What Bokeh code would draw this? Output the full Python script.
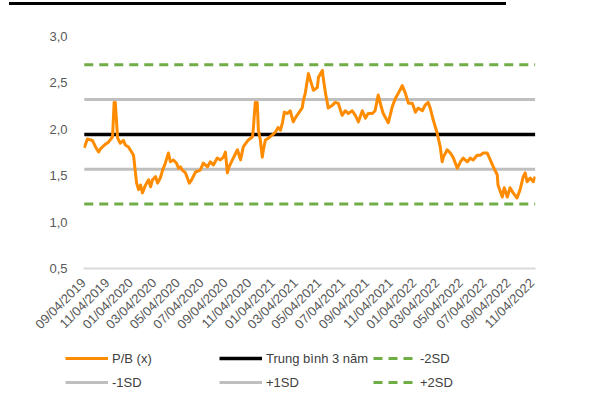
import pandas as pd
from math import pi
from bokeh.plotting import figure
from bokeh.models import Range1d, FixedTicker, Legend, LegendItem, Div
from bokeh.layouts import column
from bokeh.embed import file_html
from bokeh.resources import INLINE

# ---- data -------------------------------------------------------------
dates = [
    "2019-09-06", "2019-09-14", "2019-09-27", "2019-10-05", "2019-10-13", "2019-10-18",
    "2019-10-28", "2019-11-07", "2019-11-18", "2019-11-22", "2019-11-25", "2019-12-01",
    "2019-12-08", "2019-12-16", "2019-12-21", "2019-12-29", "2020-01-06", "2020-01-11",
    "2020-01-16", "2020-01-19", "2020-01-24", "2020-01-29", "2020-02-03", "2020-02-11",
    "2020-02-19", "2020-02-24", "2020-02-29", "2020-03-08", "2020-03-13", "2020-03-20",
    "2020-03-26", "2020-04-02", "2020-04-10", "2020-04-15", "2020-04-23", "2020-05-01",
    "2020-05-06", "2020-05-11", "2020-05-16", "2020-05-24", "2020-06-03", "2020-06-08",
    "2020-06-19", "2020-07-01", "2020-07-09", "2020-07-20", "2020-07-27", "2020-08-04",
    "2020-08-14", "2020-08-22", "2020-08-30", "2020-09-04", "2020-09-09", "2020-09-14",
    "2020-09-22", "2020-10-05", "2020-10-13", "2020-10-20", "2020-11-02", "2020-11-13",
    "2020-11-15", "2020-11-20", "2020-11-25", "2020-11-28", "2020-12-03", "2020-12-08",
    "2020-12-11", "2020-12-16", "2020-12-24", "2021-01-03", "2021-01-11", "2021-01-18",
    "2021-01-24", "2021-01-29", "2021-02-03", "2021-02-11", "2021-02-18", "2021-02-26",
    "2021-03-03", "2021-03-11", "2021-03-21", "2021-03-24", "2021-03-29", "2021-04-06",
    "2021-04-11", "2021-04-19", "2021-04-29", "2021-05-02", "2021-05-12", "2021-05-14",
    "2021-05-20", "2021-05-25", "2021-05-27", "2021-06-07", "2021-06-14", "2021-06-22",
    "2021-07-02", "2021-07-10", "2021-07-18", "2021-07-28", "2021-08-05", "2021-08-13",
    "2021-08-23", "2021-08-31", "2021-09-07", "2021-09-18", "2021-09-25", "2021-10-03",
    "2021-10-11", "2021-10-16", "2021-10-29", "2021-11-08", "2021-11-16", "2021-11-24",
    "2021-12-04", "2021-12-12", "2021-12-20", "2021-12-30", "2022-01-07", "2022-01-14",
    "2022-01-25", "2022-02-01", "2022-02-09", "2022-02-14", "2022-02-22", "2022-03-04",
    "2022-03-12", "2022-03-17", "2022-03-20", "2022-03-30", "2022-04-07", "2022-04-14",
    "2022-04-25", "2022-05-03", "2022-05-10", "2022-05-21", "2022-05-28", "2022-06-05",
    "2022-06-15", "2022-06-23", "2022-07-01", "2022-07-11", "2022-07-19", "2022-07-27",
    "2022-08-06", "2022-08-08", "2022-08-19", "2022-08-24", "2022-09-01", "2022-09-08",
    "2022-09-16", "2022-09-26", "2022-10-04", "2022-10-12", "2022-10-17", "2022-10-22",
    "2022-10-30", "2022-11-07", "2022-11-12",
]
pb = [
    1.80, 1.895, 1.88, 1.81, 1.755, 1.79,
    1.83, 1.86, 1.92, 2.29, 2.29, 1.905,
    1.85, 1.88, 1.83, 1.81, 1.755, 1.72,
    1.53, 1.42, 1.35, 1.40, 1.315, 1.40,
    1.455, 1.38, 1.455, 1.49, 1.42, 1.475,
    1.56, 1.635, 1.745, 1.65, 1.67, 1.635,
    1.58, 1.595, 1.56, 1.53, 1.42, 1.45,
    1.54, 1.56, 1.635, 1.595, 1.65, 1.615,
    1.69, 1.67, 1.70, 1.755, 1.53, 1.60,
    1.67, 1.78, 1.67, 1.81, 1.885, 1.92,
    2.01, 2.29, 2.29, 1.99, 1.885, 1.70,
    1.78, 1.885, 1.905, 1.94, 1.97, 2.02,
    1.99, 2.07, 2.185, 2.17, 2.20, 2.08,
    2.12, 2.17, 2.23, 2.31, 2.39, 2.60,
    2.53, 2.42, 2.45, 2.56, 2.635, 2.56,
    2.39, 2.28, 2.23, 2.26, 2.29, 2.28,
    2.15, 2.20, 2.17, 2.20, 2.15, 2.08,
    2.20, 2.12, 2.17, 2.17, 2.20, 2.37,
    2.24, 2.17, 2.07, 2.24, 2.33, 2.39,
    2.47, 2.39, 2.28, 2.28, 2.185, 2.23,
    2.20, 2.26, 2.29, 2.23, 2.10, 1.96,
    1.81, 1.65, 1.70, 1.78, 1.745, 1.70,
    1.58, 1.65, 1.69, 1.65, 1.69, 1.67,
    1.72, 1.72, 1.745, 1.745, 1.67, 1.595,
    1.51, 1.40, 1.27, 1.37, 1.27, 1.37,
    1.315, 1.26, 1.35, 1.49, 1.53, 1.435,
    1.475, 1.435, 1.49,
]
mean_3y = 1.945
minus_2sd = 1.195
minus_1sd = 1.57
plus_1sd = 2.32
plus_2sd = 2.695

tick_dates = [
    "2019-09-04", "2019-11-04", "2020-01-04", "2020-03-04", "2020-05-04", "2020-07-04",
    "2020-09-04", "2020-11-04", "2021-01-04", "2021-03-04", "2021-05-04", "2021-07-04",
    "2021-09-04", "2021-11-04", "2022-01-04", "2022-03-04", "2022-05-04", "2022-07-04",
    "2022-09-04", "2022-11-04",
]
tick_labels = [
    "09/04/2019", "11/04/2019", "01/04/2020", "03/04/2020", "05/04/2020", "07/04/2020",
    "09/04/2020", "11/04/2020", "01/04/2021", "03/04/2021", "05/04/2021", "07/04/2021",
    "09/04/2021", "11/04/2021", "01/04/2022", "03/04/2022", "05/04/2022", "07/04/2022",
    "09/04/2022", "11/04/2022",
]
y_ticks = [0.5, 1.0, 1.5, 2.0, 2.5, 3.0]
y_tick_labels = ["0,5", "1,0", "1,5", "2,0", "2,5", "3,0"]

legend_labels = ["P/B (x)", "Trung bình 3 năm", "-2SD", "-1SD", "+1SD", "+2SD"]

# ---- styles -----------------------------------------------------------
FONT = "Liberation Sans"
TXT = "#595959"
S_PB = dict(line_color="#FF8C00", line_width=3, line_join="round")
S_MEAN = dict(line_color="#000000", line_width=3.5)
S_SD1 = dict(line_color="#BFBFBF", line_width=3)
S_SD2 = dict(line_color="#70AD47", line_width=3, line_dash="9 6")

x = pd.to_datetime(dates)
x_ends = [x[0], x[-1]]
x_start = pd.Timestamp("2019-09-04")
x_end = pd.Timestamp("2022-11-12 16:00")

# ---- main chart -------------------------------------------------------
p = figure(
    width=591, height=332,
    x_axis_type="datetime",
    x_range=Range1d(x_start, x_end),
    y_range=Range1d(0.5, 3.0),
    output_backend="svg", toolbar_location=None,
    min_border_left=83, min_border_right=56,
    min_border_top=28, min_border_bottom=71,
)
p.frame_align = False
p.outline_line_color = None
p.xgrid.visible = False
p.ygrid.visible = False

p.line(x_ends, [minus_2sd, minus_2sd], **S_SD2)
p.line(x_ends, [plus_2sd, plus_2sd], **S_SD2)
p.line(x_ends, [minus_1sd, minus_1sd], **S_SD1)
p.line(x_ends, [plus_1sd, plus_1sd], **S_SD1)
p.line(x_ends, [mean_3y, mean_3y], **S_MEAN)
p.line(x, pb, **S_PB)

tick_ms = [pd.Timestamp(d).value // 10**6 for d in tick_dates]
p.xaxis.ticker = FixedTicker(ticks=tick_ms)
p.xaxis.major_label_overrides = dict(zip(tick_ms, tick_labels))
p.xaxis.major_label_orientation = pi / 4
p.xaxis.axis_line_color = "#D9D9D9"
p.xaxis.axis_line_width = 2
p.xaxis.major_tick_line_color = None
p.xaxis.minor_tick_line_color = None
p.xaxis.major_label_standoff = 6

p.yaxis.ticker = FixedTicker(ticks=y_ticks)
p.yaxis.major_label_overrides = dict(zip(y_ticks, y_tick_labels))
p.yaxis.axis_line_color = None
p.yaxis.major_tick_line_color = None
p.yaxis.minor_tick_line_color = None
p.yaxis.major_label_standoff = 10

for ax in (p.xaxis[0], p.yaxis[0]):
    ax.major_label_text_font = FONT
    ax.major_label_text_font_size = "13px"
    ax.major_label_text_color = TXT

# ---- legend figure ----------------------------------------------------
lg = figure(
    width=591, height=59, x_axis_type=None, y_axis_type=None,
    x_range=Range1d(0, 1), y_range=Range1d(0, 1),
    output_backend="svg", toolbar_location=None,
    min_border_left=0, min_border_right=0,
    min_border_top=0, min_border_bottom=0,
)
lg.frame_align = False
lg.outline_line_color = None
lg.xgrid.visible = False
lg.ygrid.visible = False
styles = [S_PB, S_MEAN, S_SD2, S_SD1, S_SD1, S_SD2]
dummies = [lg.line([-10, -9], [-10, -9], **s) for s in styles]
legend = Legend(
    items=[LegendItem(label=l, renderers=[r]) for l, r in zip(legend_labels, dummies)],
    orientation="horizontal", ncols=3,
    location=(65, 7),
    glyph_width=43, glyph_height=20, label_height=20, label_width=103,
    label_standoff=4, spacing=4, padding=0, margin=0,
    border_line_color=None, background_fill_alpha=0,
    label_text_font=FONT, label_text_font_size="13px", label_text_color="#404040",
)
lg.add_layout(legend, "center")

# ---- top decorative bar -----------------------------------------------
bar = Div(width=497, height=3, margin=(2, 0, 3, 9),
          styles={"background-color": "#000000"})

layout = column(bar, p, lg, spacing=0)
open("out.html", "w").write(file_html(layout, INLINE))
